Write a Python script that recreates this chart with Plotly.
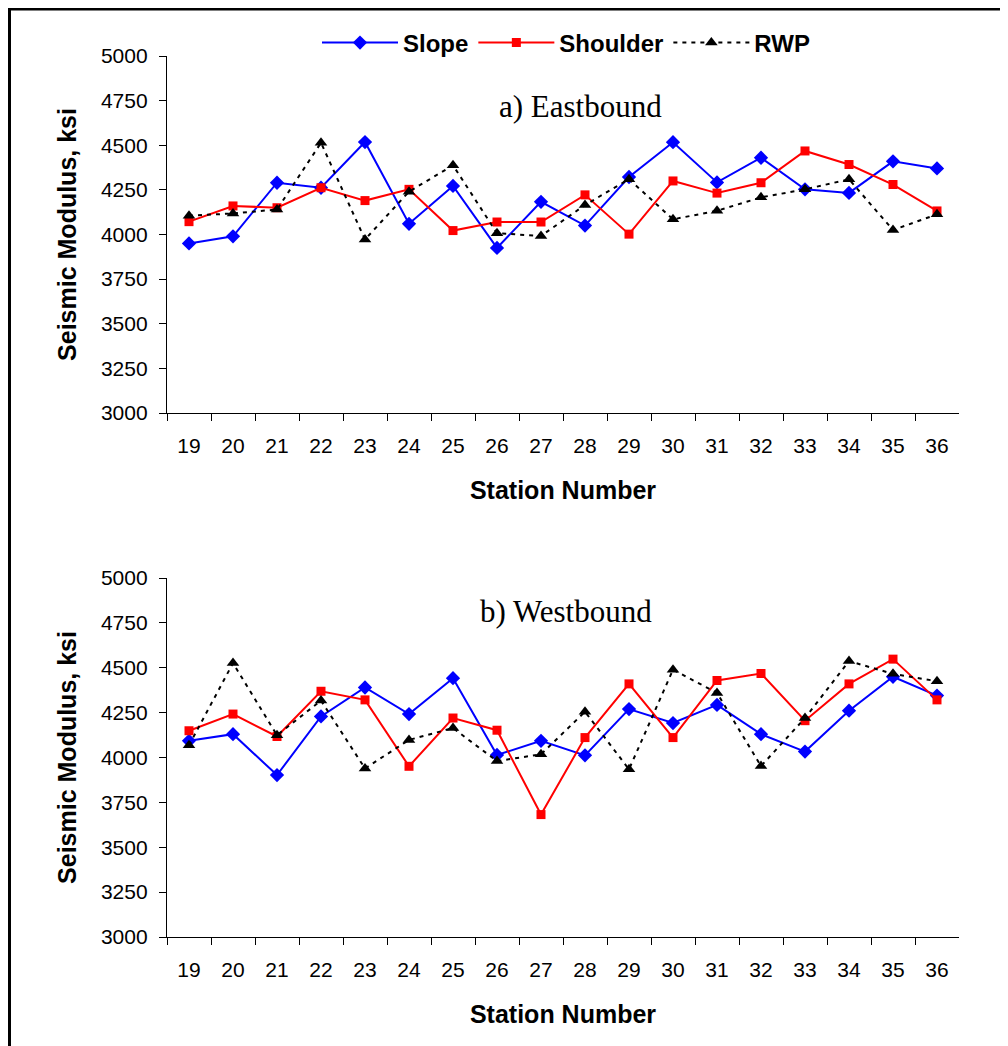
import plotly.graph_objects as go

stations = ["19", "20", "21", "22", "23", "24", "25", "26", "27",
            "28", "29", "30", "31", "32", "33", "34", "35", "36"]

east_slope = [3950, 3990, 4290, 4262, 4518, 4060, 4272, 3925, 4183,
              4050, 4322, 4517, 4292, 4430, 4253, 4233, 4410, 4370]
east_shoulder = [4072, 4160, 4150, 4262, 4190, 4253, 4022, 4070, 4070,
                 4222, 4002, 4300, 4232, 4290, 4468, 4392, 4280, 4132]
east_rwp = [4105, 4118, 4140, 4514, 3972, 4240, 4388, 4007, 3992,
            4165, 4310, 4085, 4133, 4208, 4253, 4309, 4025, 4113]

west_slope = [4093, 4130, 3902, 4229, 4390, 4242, 4442, 4014, 4093,
              4012, 4270, 4192, 4293, 4130, 4033, 4261, 4450, 4345]
west_shoulder = [4149, 4242, 4117, 4369, 4321, 3951, 4220, 4152, 3682,
                 4111, 4410, 4111, 4429, 4468, 4205, 4410, 4548, 4321]
west_rwp = [4068, 4526, 4124, 4317, 3939, 4098, 4164, 3980, 4018,
            4255, 3934, 4489, 4360, 3952, 4220, 4537, 4466, 4425]

series_names = ["Slope", "Shoulder", "RWP"]
y_ticks = [3000, 3250, 3500, 3750, 4000, 4250, 4500, 4750, 5000]

# page body adds an 8px margin; figure is sized so it fits the 1008x1046 view
OFF = 8
W, H = 1000, 1038
FONT = "Liberation Sans, Arial, sans-serif"
SERIF = "Liberation Serif, Times New Roman, serif"


def fx(px):
    return (px - OFF) / W


def fy(py):
    return 1 - (py - OFF) / H


styles = {
    "Slope": dict(line=dict(color="#0000FF", width=2),
                  marker=dict(symbol="diamond", size=11, color="#0000FF")),
    "Shoulder": dict(line=dict(color="#FF0000", width=2),
                     marker=dict(symbol="square", size=9, color="#FF0000")),
    "RWP": dict(line=dict(color="#000000", width=2, dash="4px,5px"),
                marker=dict(symbol="triangle-up", size=11, color="#000000")),
}

fig = go.Figure()
for (data, xa, ya, show) in [
    ((east_slope, east_shoulder, east_rwp), "x", "y", True),
    ((west_slope, west_shoulder, west_rwp), "x2", "y2", False),
]:
    for name, vals in zip(series_names, data):
        st = styles[name]
        fig.add_trace(go.Scatter(
            x=stations, y=vals, name="<b>%s</b>" % name, mode="lines+markers",
            line=st["line"], marker=st["marker"],
            xaxis=xa, yaxis=ya, showlegend=show,
        ))

xdom = [fx(167), fx(959)]
top_dom = [fy(413), fy(56)]
bot_dom = [fy(937), fy(578)]

common_x = dict(
    type="category", range=[-0.5, 17.5], showgrid=False, zeroline=False,
    showline=True, linecolor="black", linewidth=1.3, automargin=False,
    ticks="outside", ticklen=7, tickcolor="black", tickwidth=1.3,
    tickson="boundaries", ticklabelstandoff=14,
    tickfont=dict(family=FONT, size=21, color="black"),
    title=dict(text="<b>Station Number</b>",
               font=dict(family=FONT, size=25, color="black"), standoff=25),
    domain=xdom,
)
common_y = dict(
    range=[3000, 5000], tickvals=y_ticks, showgrid=False, zeroline=False,
    showline=True, linecolor="black", linewidth=1.3, automargin=False,
    ticks="outside", ticklen=7, tickcolor="black", tickwidth=1.3,
    ticklabelstandoff=7,
    tickfont=dict(family=FONT, size=21, color="black"),
    title=dict(text="<b>Seismic Modulus, ksi</b>",
               font=dict(family=FONT, size=25, color="black"), standoff=17),
)

fig.update_layout(
    width=W, height=H,
    margin=dict(l=0, r=0, t=0, b=0, autoexpand=False),
    paper_bgcolor="white", plot_bgcolor="white",
    xaxis=dict(common_x, anchor="y"),
    yaxis=dict(common_y, domain=top_dom, anchor="x"),
    xaxis2=dict(common_x, anchor="y2"),
    yaxis2=dict(common_y, domain=bot_dom, anchor="x2"),
    legend=dict(orientation="h", x=fx(566), xanchor="center",
                y=fy(43), yanchor="middle",
                font=dict(family=FONT, size=24, color="black"),
                itemwidth=76, bgcolor="rgba(0,0,0,0)", traceorder="normal"),
    font=dict(family=FONT),
    annotations=[
        dict(text="a) Eastbound", x=fx(580), y=fy(107),
             xref="paper", yref="paper", showarrow=False,
             xanchor="center", yanchor="middle",
             font=dict(family=SERIF, size=31, color="black")),
        dict(text="b) Westbound", x=fx(566), y=fy(611),
             xref="paper", yref="paper", showarrow=False,
             xanchor="center", yanchor="middle",
             font=dict(family=SERIF, size=31, color="black")),
    ],
    shapes=[
        dict(type="rect", xref="paper", yref="paper",
             x0=1.5 / W, x1=1.2, y0=-0.2, y1=1 - 1.0 / H,
             line=dict(color="black", width=3), fillcolor="rgba(0,0,0,0)",
             layer="above"),
    ],
)

fig.write_html("out.html")
